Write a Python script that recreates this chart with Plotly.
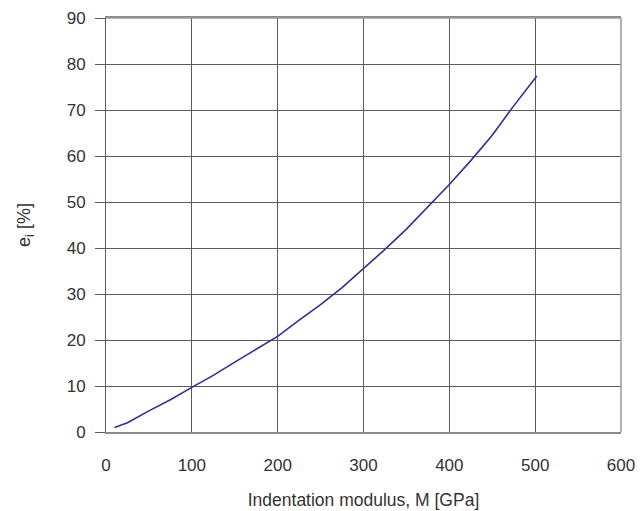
import plotly.graph_objects as go

# Indentation modulus M [GPa] and corresponding e_i [%]
modulus = [10, 25, 50, 75, 100, 125, 150, 175, 200, 225, 250, 275, 300,
           325, 350, 375, 400, 425, 450, 475, 502]
e_i = [1.0, 2.0, 4.6, 7.0, 9.7, 12.3, 15.2, 18.0, 20.8, 24.3, 27.7, 31.4, 35.5,
       39.7, 44.1, 49.0, 53.8, 59.0, 64.5, 70.9, 77.4]

x_ticks = [0, 100, 200, 300, 400, 500, 600]
y_ticks = [0, 10, 20, 30, 40, 50, 60, 70, 80, 90]

font = "Liberation Sans, Arial, sans-serif"

fig = go.Figure()
fig.add_trace(go.Scatter(
    x=modulus, y=e_i, mode="lines",
    line=dict(color="#2E3192", width=1.6),
    showlegend=False,
))

fig.update_layout(
    width=642, height=511,
    margin=dict(l=106, r=21, t=18, b=79),
    plot_bgcolor="white", paper_bgcolor="white",
    font=dict(family=font, size=17, color="#333333"),
    xaxis=dict(
        range=[0, 600], tickvals=x_ticks, ticks="", automargin=False,
        showgrid=True, gridcolor="#5a5a5a", gridwidth=1,
        showline=True, linecolor="#8a8a8a", linewidth=1.5, mirror=True,
        zeroline=False, ticklabelstandoff=17,
        title=dict(text="Indentation modulus, M [GPa]", standoff=20,
                   font=dict(size=17.5, color="#333333")),
    ),
    yaxis=dict(
        range=[0, 90], tickvals=y_ticks, ticks="outside", ticklen=10,
        tickcolor="#5a5a5a", tickwidth=1, automargin=False,
        showgrid=True, gridcolor="#5a5a5a", gridwidth=1,
        showline=True, linecolor="#5a5a5a", linewidth=1, mirror=False,
        zeroline=False, ticklabelstandoff=6,
        title=dict(text="e<sub>i</sub> [%]", standoff=31,
                   font=dict(size=18, color="#333333")),
    ),
)

# right and top frame edges in a lighter grey
fig.add_shape(type="line", xref="paper", yref="paper", x0=1, x1=1, y0=0, y1=1,
              line=dict(color="#9a9a9a", width=1.5))
fig.add_shape(type="line", xref="paper", yref="paper", x0=0, x1=1, y0=1, y1=1,
              line=dict(color="#9a9a9a", width=1.5))

fig.write_html("out.html")
